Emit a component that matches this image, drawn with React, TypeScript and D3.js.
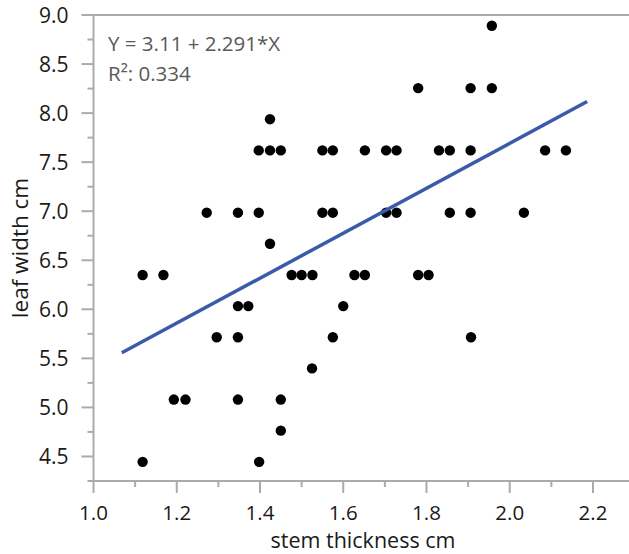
import React from "react";
import * as d3 from "d3";

// Stem thickness (cm) and leaf width (cm) for each plant measured
const stemThickness: number[] = [
  1.957,
  1.78, 1.906, 1.957,
  1.424,
  1.397, 1.424, 1.45, 1.55, 1.575, 1.652, 1.703, 1.728, 1.83, 1.856, 1.906, 2.085, 2.135,
  1.272, 1.347, 1.397, 1.55, 1.575, 1.703, 1.728, 1.856, 1.906, 2.034,
  1.424,
  1.118, 1.168, 1.476, 1.5, 1.526, 1.627, 1.652, 1.78, 1.805,
  1.347, 1.372, 1.6,
  1.296, 1.347, 1.575, 1.907,
  1.525,
  1.193, 1.221, 1.347, 1.45,
  1.45,
  1.118, 1.398,
];
const leafWidth: number[] = [
  8.89,
  8.255, 8.255, 8.255,
  7.938,
  7.62, 7.62, 7.62, 7.62, 7.62, 7.62, 7.62, 7.62, 7.62, 7.62, 7.62, 7.62, 7.62,
  6.985, 6.985, 6.985, 6.985, 6.985, 6.985, 6.985, 6.985, 6.985, 6.985,
  6.668,
  6.35, 6.35, 6.35, 6.35, 6.35, 6.35, 6.35, 6.35, 6.35,
  6.033, 6.033, 6.033,
  5.715, 5.715, 5.715, 5.715,
  5.398,
  5.08, 5.08, 5.08, 5.08,
  4.763,
  4.445, 4.445,
];

// Fitted line: Y = 3.11 + 2.291*X, drawn over this stem range
const fitIntercept = 3.11;
const fitSlope = 2.291;
const fitRange: number[] = [1.068, 2.186];
const fitLabel = "Y = 3.11 + 2.291*X";
const r2Label = "R²: 0.334";

const xMajorTicks: number[] = [1.0, 1.2, 1.4, 1.6, 1.8, 2.0, 2.2];
const xMinorTicks: number[] = [1.1, 1.3, 1.5, 1.7, 1.9, 2.1, 2.3];
const yMajorTicks: number[] = [4.5, 5.0, 5.5, 6.0, 6.5, 7.0, 7.5, 8.0, 8.5, 9.0];
const yMinorTicks: number[] = [4.25, 4.75, 5.25, 5.75, 6.25, 6.75, 7.25, 7.75, 8.25, 8.75];

const W = 629;
const H = 554;
const FONT = "'Open Sans', 'Noto Sans', sans-serif";
const AXIS = "#ababab";
const TEXT = "#1a1a1a";

export default function App() {
  const x = d3.scaleLinear().domain([1.0, 2.3]).range([93.5, 634.6]);
  const y = d3.scaleLinear().domain([4.25, 9.0]).range([481, 15]);
  const left = x(1.0);
  const bottom = y(4.25);
  const top = y(9.0);

  const line = d3
    .line<number>()
    .x((d) => x(d))
    .y((d) => y(fitIntercept + fitSlope * d));

  return (
    <svg
      width={W}
      height={H}
      style={{ position: "absolute", left: 0, top: 0, background: "#fff" }}
      fontFamily={FONT}
    >
      {/* frame */}
      <line x1={left} x2={W} y1={top} y2={top} stroke={AXIS} strokeWidth={2} />
      <line x1={left} x2={W} y1={bottom} y2={bottom} stroke={AXIS} strokeWidth={2} />
      <line x1={left} x2={left} y1={top} y2={bottom} stroke={AXIS} strokeWidth={2} />

      {/* y ticks */}
      {yMajorTicks.map((t) => (
        <g key={"ym" + t}>
          <line x1={left - 12} x2={left} y1={y(t)} y2={y(t)} stroke={AXIS} strokeWidth={2} />
          <text
            x={left - 25}
            y={y(t)}
            dy="0.36em"
            textAnchor="end"
            fontSize={21}
            fill={TEXT}
          >
            {d3.format(".1f")(t)}
          </text>
        </g>
      ))}
      {yMinorTicks.map((t) => (
        <line key={"yn" + t} x1={left - 6} x2={left} y1={y(t)} y2={y(t)} stroke={AXIS} strokeWidth={2} />
      ))}

      {/* x ticks */}
      {xMajorTicks.map((t) => (
        <g key={"xm" + t}>
          <line x1={x(t)} x2={x(t)} y1={bottom} y2={bottom + 12} stroke={AXIS} strokeWidth={2} />
          <text x={x(t)} y={519.5} textAnchor="middle" fontSize={20.5} fill={TEXT}>
            {d3.format(".1f")(t)}
          </text>
        </g>
      ))}
      {xMinorTicks.map((t) => (
        <line key={"xn" + t} x1={x(t)} x2={x(t)} y1={bottom} y2={bottom + 6} stroke={AXIS} strokeWidth={2} />
      ))}

      {/* axis titles */}
      <text x={363} y={548} textAnchor="middle" fontSize={21.5} fill={TEXT}>
        stem thickness cm
      </text>
      <text
        transform={`translate(28, ${(top + bottom) / 2}) rotate(-90)`}
        textAnchor="middle"
        fontSize={22.5}
        fill={TEXT}
      >
        leaf width cm
      </text>

      {/* points */}
      {stemThickness.map((s, i) => (
        <circle key={i} cx={x(s)} cy={y(leafWidth[i])} r={5.2} fill="#000" />
      ))}

      {/* regression line */}
      <path d={line(fitRange) ?? ""} fill="none" stroke="#3a5ba9" strokeWidth={3.5} />

      {/* fit annotation */}
      <text x={108} y={51} fontSize={20.5} fill="#595959">
        {fitLabel}
      </text>
      <text x={108} y={81} fontSize={20.5} fill="#595959">
        {r2Label}
      </text>
    </svg>
  );
}
